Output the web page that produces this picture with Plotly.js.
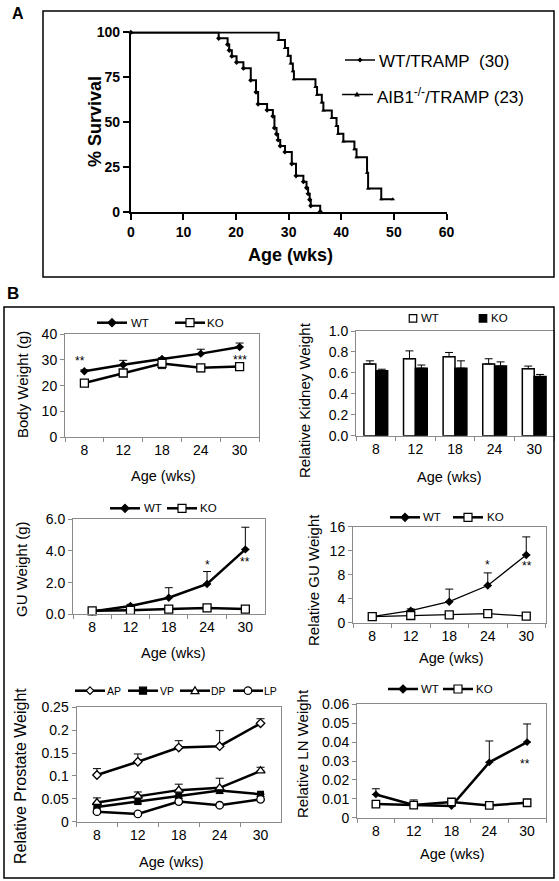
<!DOCTYPE html>
<html><head><meta charset="utf-8">
<script src="https://cdn.plot.ly/plotly-3.0.1.min.js"></script>
<style>html,body{margin:0;padding:0;background:#fff}#chart{width:559px;height:881px}</style>
</head><body><div id="chart"></div>
<script>
// ---------- DATA ----------
const survWTTime = [0, 16.7, 18.4, 18.7, 19.2, 20.1, 21.4, 22.8, 23.8, 24.2, 25.9, 27.0, 27.3, 27.7, 28.0, 28.4, 29.3, 30.6, 31.4, 32.8, 33.4, 33.7, 34.0, 34.2, 36.0];
const survWTPct  = [100, 96.7, 93.3, 90.0, 86.7, 83.3, 80.0, 73.3, 66.7, 60.0, 56.7, 53.3, 46.7, 43.3, 40.0, 36.7, 33.3, 26.7, 20.0, 16.7, 13.3, 10.0, 6.7, 3.3, 0];
const survKOTime = [0, 28.1, 29.3, 29.9, 30.4, 30.8, 31.0, 35.1, 35.4, 36.3, 36.6, 38.2, 39.1, 39.4, 40.4, 42.5, 42.9, 44.9, 45.1, 47.6, 49.8];
const survKOPct  = [100, 95.7, 91.3, 87.0, 82.6, 78.3, 73.9, 69.6, 65.2, 60.9, 56.5, 52.2, 47.8, 43.5, 39.1, 34.8, 30.4, 21.7, 13.0, 6.9, 6.9];
const survLabels = ['WT/TRAMP\u00a0\u00a0(30)', 'AIB1<sup>-/-</sup>/TRAMP (23)'];

const ages = ['8', '12', '18', '24', '30'];

const bodyWT = [25.6, 28.1, 30.3, 32.4, 35.0];
const bodyWTErr = [0.5, 1.7, 0.5, 1.7, 1.5];
const bodyKO = [21.0, 24.9, 28.6, 26.9, 27.4];
const bodyKOErr = [0.8, 1.0, 2.0, 1.5, 0.6];

const kidWT = [0.685, 0.735, 0.755, 0.685, 0.64];
const kidWTErr = [0.03, 0.075, 0.04, 0.05, 0.025];
const kidKO = [0.62, 0.645, 0.645, 0.665, 0.565];
const kidKOErr = [0.015, 0.03, 0.07, 0.04, 0.02];

const guWT = [0.18, 0.53, 1.05, 1.92, 4.1];
const guWTErr = [0.05, 0.1, 0.63, 0.78, 1.4];
const guKO = [0.22, 0.25, 0.33, 0.40, 0.33];
const guKOErr = [0.03, 0.03, 0.05, 0.06, 0.05];

const rguWT = [1.0, 2.0, 3.5, 6.2, 11.3];
const rguWTErr = [0.2, 0.3, 2.1, 2.1, 3.0];
const rguKO = [1.0, 1.2, 1.3, 1.5, 1.1];
const rguKOErr = [0.1, 0.1, 0.15, 0.2, 0.1];

const apV = [0.102, 0.131, 0.162, 0.165, 0.215];
const apErr = [0.014, 0.017, 0.015, 0.034, 0.010];
const vpV = [0.032, 0.044, 0.057, 0.068, 0.060];
const vpErr = [0.004, 0.005, 0.006, 0.006, 0.005];
const dpV = [0.042, 0.056, 0.069, 0.074, 0.111];
const dpErr = [0.010, 0.009, 0.013, 0.021, 0.008];
const lpV = [0.022, 0.017, 0.044, 0.036, 0.049];
const lpErr = [0.003, 0.002, 0.004, 0.003, 0.003];

const lnWT = [0.0123, 0.0067, 0.0062, 0.0293, 0.0400];
const lnWTErr = [0.0030, 0.0027, 0.0008, 0.0113, 0.0096];
const lnKO = [0.0072, 0.0067, 0.0083, 0.0065, 0.0079];
const lnKOErr = [0.0005, 0.0005, 0.0008, 0.0012, 0.0005];

// ---------- LAYOUT HELPERS ----------
const W = 559, H = 881;
const FONT = 'Liberation Sans, Arial, Helvetica, sans-serif';
const px = x => x / W, py = y => 1 - y / H;
const xd = (a, b) => [px(a), px(b)];
const yd = (t, b) => [py(b), py(t)];
const zeros = n => new Array(n).fill(0);

function errUp(arr) { return {type: 'data', array: arr, arrayminus: zeros(arr.length), symmetric: false, color: '#000', thickness: 1, width: 4}; }
function errDown(arr) { return {type: 'data', array: zeros(arr.length), arrayminus: arr, symmetric: false, color: '#000', thickness: 1, width: 4}; }

function catX(dom, anchor) {
  return {domain: dom, anchor: anchor, type: 'category', categoryarray: ages, range: [-0.5, 4.5],
    showline: true, linecolor: '#8a8a8a', linewidth: 1, mirror: true, ticks: 'outside', ticklen: 4,
    tickcolor: '#8a8a8a', tickson: 'boundaries', showgrid: false, zeroline: false,
    tickfont: {family: FONT, size: 14, color: '#000'}, fixedrange: true, automargin: false};
}
function valY(dom, anchor, range, dtick, fmt) {
  const o = {domain: dom, anchor: anchor, range: range, dtick: dtick, tick0: 0,
    showline: true, linecolor: '#8a8a8a', linewidth: 1, mirror: true, ticks: 'outside', ticklen: 4,
    tickcolor: '#8a8a8a', showgrid: false, zeroline: false,
    tickfont: {family: FONT, size: 14, color: '#000'}, fixedrange: true, automargin: false};
  if (fmt) o.tickformat = fmt;
  return o;
}
function ann(text, x, y, size, opts) {
  return Object.assign({text: text, xref: 'paper', yref: 'paper', x: px(x), y: py(y),
    showarrow: false, xanchor: 'center', yanchor: 'middle', font: {family: FONT, size: size, color: '#000'}}, opts || {});
}

// legend-key drawing (shapes in paper coordinates) + label annotations
const shapes = [], annotations = [];
function keyLine(x0, x1, y, w) {
  shapes.push({type: 'line', xref: 'paper', yref: 'paper', x0: px(x0), x1: px(x1), y0: py(y), y1: py(y), line: {color: '#000', width: w}});
}
function keyMarker(sym, cx, cy, s, fill) {
  const h = s / 2;
  const base = {xref: 'paper', yref: 'paper', fillcolor: fill, line: {color: '#000', width: 1.2}, layer: 'above'};
  if (sym === 'square') {
    shapes.push(Object.assign({type: 'rect', x0: px(cx - h), x1: px(cx + h), y0: py(cy + h), y1: py(cy - h)}, base));
  } else if (sym === 'circle') {
    shapes.push(Object.assign({type: 'circle', x0: px(cx - h), x1: px(cx + h), y0: py(cy + h), y1: py(cy - h)}, base));
  } else {
    let pts;
    if (sym === 'diamond') pts = [[cx, cy - h], [cx + h, cy], [cx, cy + h], [cx - h, cy]];
    else pts = [[cx, cy - h], [cx + h, cy + h * 0.75], [cx - h, cy + h * 0.75]];
    const d = 'M' + pts.map(p => px(p[0]) + ',' + py(p[1])).join('L') + 'Z';
    shapes.push(Object.assign({type: 'path', path: d}, base));
  }
}
function keyText(text, x, y, size) {
  annotations.push(ann(text, x, y, size, {xanchor: 'left'}));
}
function lineKey(x0, y, sym, fill, s, label, tx, size, lw) {
  keyLine(x0, x0 + 30, y, lw || 2.5);
  if (sym) keyMarker(sym, x0 + 15, y, s, fill);
  keyText(label, tx, y, size);
}

// Panel A legend
keyLine(345, 375, 60, 1.5); keyMarker('diamond', 360, 60, 3.5, '#000'); keyText(survLabels[0], 377, 61, 17);
keyLine(342, 373, 94.5, 1.5); keyMarker('triangle', 357, 94.5, 3.5, '#000'); keyText(survLabels[1], 375, 96, 17);
// Body legend
lineKey(97, 322.7, 'diamond', '#000', 8, 'WT', 129, 11.5);
lineKey(175, 322.7, 'square', '#fff', 8, 'KO', 205, 11.5);
// Kidney legend
keyMarker('square', 413, 318.3, 7.5, '#fff'); keyText('WT', 419, 318.3, 11.5);
keyMarker('square', 483, 318.3, 7.5, '#000'); keyText('KO', 489, 318.3, 11.5);
// GU legend
lineKey(110, 508.3, 'diamond', '#000', 8, 'WT', 142, 11.5);
lineKey(167, 508.3, 'square', '#fff', 8, 'KO', 198, 11.5);
// Relative GU legend
lineKey(390, 517.3, 'diamond', '#000', 8, 'WT', 421, 11.5);
lineKey(453, 517.3, 'square', '#fff', 8, 'KO', 485, 11.5);
// Prostate legend
lineKey(75, 690.7, 'diamond', '#fff', 7.5, 'AP', 105, 10.5);
lineKey(128, 690.7, 'square', '#000', 7, 'VP', 158, 10.5);
lineKey(180, 690.7, 'triangle', '#fff', 8, 'DP', 209, 10.5);
lineKey(233, 690.7, 'circle', '#fff', 7.5, 'LP', 262, 10.5);
// LN legend
lineKey(388, 689, 'diamond', '#000', 8, 'WT', 419, 11.5);
lineKey(443, 689, 'square', '#fff', 8, 'KO', 474, 11.5);

// panel frames
shapes.push({type: 'rect', xref: 'paper', yref: 'paper', x0: px(43), x1: px(554), y0: py(277), y1: py(11), line: {color: '#000', width: 1.5}});
shapes.push({type: 'rect', xref: 'paper', yref: 'paper', x0: px(4), x1: px(554), y0: py(878), y1: py(307), line: {color: '#000', width: 1.5}});

// titles and labels
annotations.push(
  ann('<b>A</b>', 18, 13, 16),
  ann('<b>B</b>', 13, 293, 17),
  ann('<b>% Survival</b>', 95, 122, 18, {textangle: -90}),
  ann('<b>Age (wks)</b>', 290, 255, 18),
  ann('Body Weight (g)', 22, 385, 15, {textangle: -90}),
  ann('Age (wks)', 163, 476, 14.5),
  ann('Relative Kidney Weight', 304, 400, 15, {textangle: -90}),
  ann('Age (wks)', 449, 477, 14.5),
  ann('GU Weight (g)', 21, 569, 15, {textangle: -90}),
  ann('Age (wks)', 173, 653, 14.5),
  ann('Relative GU Weight', 313, 580, 15, {textangle: -90}),
  ann('Age (wks)', 451, 658, 14.5),
  ann('Relative Prostate Weight', 20, 776, 16, {textangle: -90}),
  ann('Age (wks)', 171, 862, 14.5),
  ann('Relative LN Weight', 302, 754, 15, {textangle: -90}),
  ann('Age (wks)', 452, 854, 14.5),
  ann('**', 80, 361, 12),
  ann('***', 240, 360, 12),
  ann('*', 207, 565, 12),
  ann('**', 245, 562, 12),
  ann('*', 487, 565, 12),
  ann('**', 527, 566, 12),
  ann('**', 525, 764, 12)
);

// ---------- TRACES ----------
const traces = [];
const openSq = {symbol: 'square', size: 8, color: '#fff', line: {color: '#000', width: 1.3}};
const filledDia = {symbol: 'diamond', size: 6.5, color: '#000'};
function lineTrace(xa, ya, y, marker, err, lw) {
  return {x: ages, y: y, xaxis: xa, yaxis: ya, mode: 'lines+markers', line: {color: '#000', width: lw || 2.5},
    marker: marker, error_y: err, cliponaxis: false};
}
// Panel A survival
traces.push({x: survWTTime, y: survWTPct, xaxis: 'x', yaxis: 'y', mode: 'lines+markers', line: {shape: 'hv', color: '#000', width: 2},
  marker: {symbol: 'diamond', size: 4, color: '#000'}, name: survLabels[0], cliponaxis: false});
traces.push({x: survKOTime, y: survKOPct, xaxis: 'x', yaxis: 'y', mode: 'lines+markers', line: {shape: 'hv', color: '#000', width: 2},
  marker: {symbol: 'triangle-up', size: 4, color: '#000'}, name: survLabels[1], cliponaxis: false});
// Body weight
traces.push(lineTrace('x2', 'y2', bodyWT, filledDia, errUp(bodyWTErr)));
traces.push(lineTrace('x2', 'y2', bodyKO, openSq, errDown(bodyKOErr)));
// Kidney
traces.push({x: ages, y: kidWT, xaxis: 'x3', yaxis: 'y3', type: 'bar', name: 'WT',
  marker: {color: '#fff', line: {color: '#000', width: 1.5}}, error_y: errUp(kidWTErr)});
traces.push({x: ages, y: kidKO, xaxis: 'x3', yaxis: 'y3', type: 'bar', name: 'KO',
  marker: {color: '#000', line: {color: '#000', width: 1.5}}, error_y: errUp(kidKOErr)});
// GU weight
traces.push(lineTrace('x4', 'y4', guWT, filledDia, errUp(guWTErr)));
traces.push(lineTrace('x4', 'y4', guKO, openSq, errDown(guKOErr)));
// Relative GU
traces.push(lineTrace('x5', 'y5', rguWT, filledDia, errUp(rguWTErr), 1.3));
traces.push(lineTrace('x5', 'y5', rguKO, openSq, errDown(rguKOErr), 1.3));
// Prostate
traces.push(lineTrace('x6', 'y6', apV, {symbol: 'diamond', size: 6.5, color: '#fff', line: {color: '#000', width: 1.3}}, errUp(apErr)));
traces.push(lineTrace('x6', 'y6', vpV, {symbol: 'square', size: 7, color: '#000'}, errDown(vpErr)));
traces.push(lineTrace('x6', 'y6', dpV, {symbol: 'triangle-up', size: 8, color: '#fff', line: {color: '#000', width: 1.3}}, errUp(dpErr)));
traces.push(lineTrace('x6', 'y6', lpV, {symbol: 'circle', size: 7.5, color: '#fff', line: {color: '#000', width: 1.3}}, errDown(lpErr)));
// LN
traces.push(lineTrace('x7', 'y7', lnWT, {symbol: 'diamond', size: 6, color: '#000'}, errUp(lnWTErr)));
traces.push(lineTrace('x7', 'y7', lnKO, {symbol: 'square', size: 7.5, color: '#fff', line: {color: '#000', width: 1.3}}, errDown(lnKOErr)));

const boldTick = {family: FONT, size: 14, color: '#000', weight: 'bold'};
const layout = {
  width: W, height: H, margin: {l: 0, r: 0, t: 0, b: 0, pad: 0, autoexpand: false}, paper_bgcolor: '#fff', plot_bgcolor: 'rgba(0,0,0,0)',
  font: {family: FONT, color: '#000'}, showlegend: false, barmode: 'group', bargap: 0.4, bargroupgap: 0,
  xaxis: {domain: xd(130.8, 446.5), anchor: 'y', range: [0, 60], dtick: 10, tick0: 0, showline: true, linecolor: '#000', linewidth: 2,
    ticks: 'outside', ticklen: 6, tickwidth: 2, tickcolor: '#000', showgrid: false, zeroline: false, tickfont: boldTick, fixedrange: true, automargin: false},
  yaxis: {domain: yd(31.5, 211.7), anchor: 'x', range: [0, 100.5], tickvals: [0, 25, 50, 75, 100], showline: true, linecolor: '#000', linewidth: 2,
    ticks: 'outside', ticklen: 6, tickwidth: 2, tickcolor: '#000', showgrid: false, zeroline: false, tickfont: boldTick, fixedrange: true, automargin: false},
  xaxis2: catX(xd(65, 259), 'y2'),
  yaxis2: valY(yd(334, 437.3), 'x2', [0, 40], 10),
  xaxis3: catX(xd(356, 554), 'y3'),
  yaxis3: valY(yd(331, 435.7), 'x3', [0, 1.0], 0.2, '.1f'),
  xaxis4: catX(xd(73, 264.5), 'y4'),
  yaxis4: valY(yd(519.3, 614.3), 'x4', [0, 6], 2, '.1f'),
  xaxis5: catX(xd(353, 545.5), 'y5'),
  yaxis5: valY(yd(526.7, 622.7), 'x5', [0, 16], 4),
  xaxis6: catX(xd(76.5, 281), 'y6'),
  yaxis6: valY(yd(707.3, 821.7), 'x6', [0, 0.25], 0.05),
  xaxis7: catX(xd(357, 546), 'y7'),
  yaxis7: valY(yd(704.3, 817.7), 'x7', [0, 0.06], 0.01),
  shapes: shapes,
  annotations: annotations
};

Plotly.newPlot('chart', traces, layout, {staticPlot: true, displayModeBar: false});
</script>
</body></html>
